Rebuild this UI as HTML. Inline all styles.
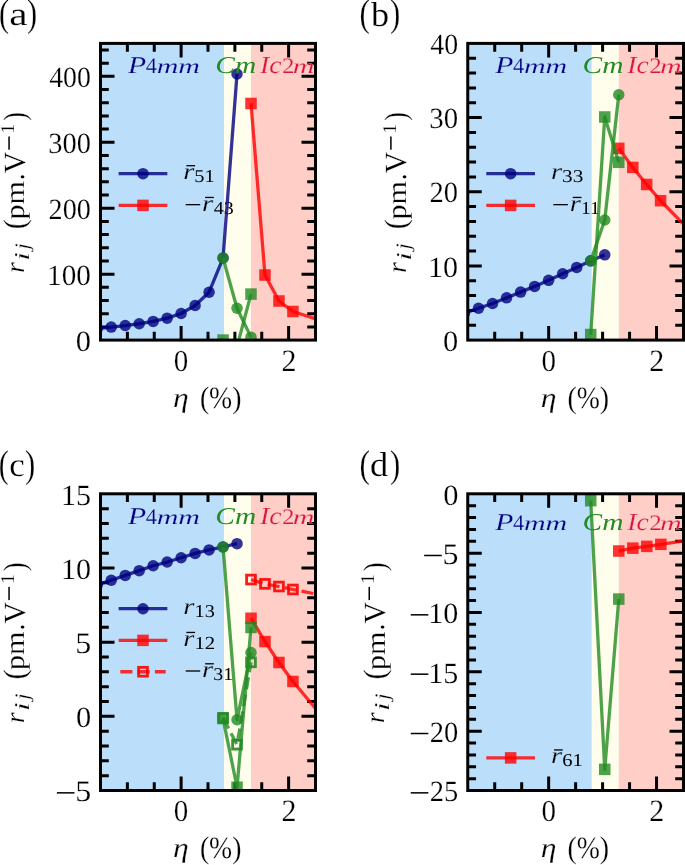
<!DOCTYPE html><html><head><meta charset="utf-8"><style>html,body{margin:0;padding:0;background:#fff;overflow:hidden}svg{display:block;will-change:transform;text-rendering:geometricPrecision;font-family:"Liberation Serif",serif}</style></head><body><svg width="685" height="865" viewBox="0 0 685 865" font-family="Liberation Serif, serif" font-size="100"><rect width="685" height="865" fill="#fff"/><defs><clipPath id="clipa"><rect x="100.5" y="43.4" width="215.0" height="296.70000000000005"/></clipPath><clipPath id="clipb"><rect x="467.75" y="43.4" width="215.75" height="296.70000000000005"/></clipPath><clipPath id="clipc"><rect x="100.5" y="493.8" width="215.0" height="296.7"/></clipPath><clipPath id="clipd"><rect x="467.75" y="493.8" width="215.75" height="296.7"/></clipPath></defs><g clip-path="url(#clipa)"><rect x="100.5" y="43.4" width="123.62" height="296.70" fill="#bbdefb"/><rect x="224.12" y="43.4" width="26.88" height="296.70" fill="#fffdec"/><rect x="251.00" y="43.4" width="64.50" height="296.70" fill="#ffcec7"/><path d="M120.30,173.65 L165.70,173.65" fill="none" stroke="#000080" stroke-opacity="0.8" stroke-width="3.3" stroke-linejoin="round" stroke-linecap="square"/><circle cx="143.00" cy="173.65" r="5.75" fill="#000080" fill-opacity="0.8"/><path d="M120.30,205.40 L165.70,205.40" fill="none" stroke="#ff0000" stroke-opacity="0.8" stroke-width="3.3" stroke-linejoin="round" stroke-linecap="square"/><rect x="137.25" y="199.65" width="11.50" height="11.50" fill="#ff0000" fill-opacity="0.8"/></g><g clip-path="url(#clipb)"><rect x="467.75" y="43.4" width="124.06" height="296.70" fill="#bbdefb"/><rect x="591.81" y="43.4" width="26.97" height="296.70" fill="#fffdec"/><rect x="618.77" y="43.4" width="64.73" height="296.70" fill="#ffcec7"/><path d="M487.95,173.65 L533.35,173.65" fill="none" stroke="#000080" stroke-opacity="0.8" stroke-width="3.3" stroke-linejoin="round" stroke-linecap="square"/><circle cx="510.65" cy="173.65" r="5.75" fill="#000080" fill-opacity="0.8"/><path d="M487.95,205.40 L533.35,205.40" fill="none" stroke="#ff0000" stroke-opacity="0.8" stroke-width="3.3" stroke-linejoin="round" stroke-linecap="square"/><rect x="504.90" y="199.65" width="11.50" height="11.50" fill="#ff0000" fill-opacity="0.8"/></g><g clip-path="url(#clipc)"><rect x="100.5" y="493.8" width="123.62" height="296.70" fill="#bbdefb"/><rect x="224.12" y="493.8" width="26.88" height="296.70" fill="#fffdec"/><rect x="251.00" y="493.8" width="64.50" height="296.70" fill="#ffcec7"/><path d="M120.30,608.70 L165.70,608.70" fill="none" stroke="#000080" stroke-opacity="0.8" stroke-width="3.3" stroke-linejoin="round" stroke-linecap="square"/><circle cx="143.00" cy="608.70" r="5.75" fill="#000080" fill-opacity="0.8"/><path d="M120.30,640.40 L165.70,640.40" fill="none" stroke="#ff0000" stroke-opacity="0.8" stroke-width="3.3" stroke-linejoin="round" stroke-linecap="square"/><rect x="137.25" y="634.65" width="11.50" height="11.50" fill="#ff0000" fill-opacity="0.8"/><path d="M120.30,671.75 L165.70,671.75" fill="none" stroke="#ff0000" stroke-opacity="0.8" stroke-width="3.3" stroke-linejoin="round" stroke-linecap="butt" stroke-dasharray="12.1,5.2"/><rect x="138.60" y="667.35" width="8.80" height="8.80" fill="none" stroke="#ff0000" stroke-opacity="0.9" stroke-width="2.8"/></g><g clip-path="url(#clipd)"><rect x="467.75" y="493.8" width="124.06" height="296.70" fill="#bbdefb"/><rect x="591.81" y="493.8" width="26.97" height="296.70" fill="#fffdec"/><rect x="618.77" y="493.8" width="64.73" height="296.70" fill="#ffcec7"/><path d="M487.95,757.90 L533.35,757.90" fill="none" stroke="#ff0000" stroke-opacity="0.8" stroke-width="3.3" stroke-linejoin="round" stroke-linecap="square"/><rect x="504.90" y="752.15" width="11.50" height="11.50" fill="#ff0000" fill-opacity="0.8"/></g><rect x="186.40" y="165.05" width="8.7" height="1.3" fill="#000"/><rect x="185.70" y="204.00" width="14.5" height="1.3" fill="#000"/><rect x="205.15" y="196.80" width="8.7" height="1.3" fill="#000"/><rect x="553.35" y="204.00" width="14.5" height="1.3" fill="#000"/><rect x="572.80" y="196.80" width="8.7" height="1.3" fill="#000"/><rect x="186.40" y="631.80" width="8.7" height="1.3" fill="#000"/><rect x="185.70" y="670.35" width="14.5" height="1.3" fill="#000"/><rect x="205.15" y="663.15" width="8.7" height="1.3" fill="#000"/><rect x="554.05" y="749.30" width="8.7" height="1.3" fill="#000"/><text transform="translate(183.36,179.05) scale(0.2857,0.2277)" font-style="italic" fill="#000" stroke="#bbdefb" stroke-width="0.78">r</text><text transform="translate(194.27,182.07) scale(0.2045,0.1806)" font-style="normal" fill="#000">51</text><text transform="translate(202.11,210.80) scale(0.2857,0.2277)" font-style="italic" fill="#000" stroke="#bbdefb" stroke-width="0.78">r</text><text transform="translate(213.85,213.82) scale(0.2000,0.1806)" font-style="normal" fill="#000">43</text><text transform="translate(551.01,179.05) scale(0.2857,0.2277)" font-style="italic" fill="#000" stroke="#bbdefb" stroke-width="0.78">r</text><text transform="translate(562.08,182.07) scale(0.2132,0.1806)" font-style="normal" fill="#000">33</text><text transform="translate(569.76,210.80) scale(0.2857,0.2277)" font-style="italic" fill="#000" stroke="#bbdefb" stroke-width="0.78">r</text><text transform="translate(580.94,214.00) scale(0.1951,0.1833)" font-style="normal" fill="#000">11</text><text transform="translate(183.36,614.10) scale(0.2857,0.2277)" font-style="italic" fill="#000" stroke="#bbdefb" stroke-width="0.78">r</text><text transform="translate(194.47,617.12) scale(0.2034,0.1806)" font-style="normal" fill="#000">13</text><text transform="translate(183.36,645.80) scale(0.2857,0.2277)" font-style="italic" fill="#000" stroke="#bbdefb" stroke-width="0.78">r</text><text transform="translate(194.43,649.00) scale(0.2082,0.1833)" font-style="normal" fill="#000">12</text><text transform="translate(202.11,677.15) scale(0.2857,0.2277)" font-style="italic" fill="#000" stroke="#bbdefb" stroke-width="0.78">r</text><text transform="translate(213.26,680.17) scale(0.1989,0.1806)" font-style="normal" fill="#000">31</text><text transform="translate(551.01,763.30) scale(0.2857,0.2277)" font-style="italic" fill="#000" stroke="#bbdefb" stroke-width="0.78">r</text><text transform="translate(562.33,766.32) scale(0.2056,0.1806)" font-style="normal" fill="#000">61</text><path d="M127.38,340.10V331.80M127.38,43.40V51.70M154.25,340.10V331.80M154.25,43.40V51.70M181.12,340.10V326.10M181.12,43.40V57.40M208.00,340.10V331.80M208.00,43.40V51.70M234.88,340.10V331.80M234.88,43.40V51.70M261.75,340.10V331.80M261.75,43.40V51.70M288.62,340.10V326.10M288.62,43.40V57.40M100.50,326.91H108.80M315.50,326.91H307.20M100.50,313.73H108.80M315.50,313.73H307.20M100.50,300.54H108.80M315.50,300.54H307.20M100.50,287.35H108.80M315.50,287.35H307.20M100.50,274.17H114.50M315.50,274.17H301.50M100.50,260.98H108.80M315.50,260.98H307.20M100.50,247.79H108.80M315.50,247.79H307.20M100.50,234.61H108.80M315.50,234.61H307.20M100.50,221.42H108.80M315.50,221.42H307.20M100.50,208.23H114.50M315.50,208.23H301.50M100.50,195.05H108.80M315.50,195.05H307.20M100.50,181.86H108.80M315.50,181.86H307.20M100.50,168.67H108.80M315.50,168.67H307.20M100.50,155.49H108.80M315.50,155.49H307.20M100.50,142.30H114.50M315.50,142.30H301.50M100.50,129.11H108.80M315.50,129.11H307.20M100.50,115.93H108.80M315.50,115.93H307.20M100.50,102.74H108.80M315.50,102.74H307.20M100.50,89.55H108.80M315.50,89.55H307.20M100.50,76.37H114.50M315.50,76.37H301.50M100.50,63.18H108.80M315.50,63.18H307.20M100.50,49.99H108.80M315.50,49.99H307.20" stroke="#000" stroke-width="3.0" fill="none"/><path d="M494.72,340.10V331.80M494.72,43.40V51.70M521.69,340.10V331.80M521.69,43.40V51.70M548.66,340.10V326.10M548.66,43.40V57.40M575.62,340.10V331.80M575.62,43.40V51.70M602.59,340.10V331.80M602.59,43.40V51.70M629.56,340.10V331.80M629.56,43.40V51.70M656.53,340.10V326.10M656.53,43.40V57.40M467.75,325.27H476.05M683.50,325.27H675.20M467.75,310.43H476.05M683.50,310.43H675.20M467.75,295.60H476.05M683.50,295.60H675.20M467.75,280.76H476.05M683.50,280.76H675.20M467.75,265.93H481.75M683.50,265.93H669.50M467.75,251.09H476.05M683.50,251.09H675.20M467.75,236.25H476.05M683.50,236.25H675.20M467.75,221.42H476.05M683.50,221.42H675.20M467.75,206.59H476.05M683.50,206.59H675.20M467.75,191.75H481.75M683.50,191.75H669.50M467.75,176.91H476.05M683.50,176.91H675.20M467.75,162.08H476.05M683.50,162.08H675.20M467.75,147.24H476.05M683.50,147.24H675.20M467.75,132.41H476.05M683.50,132.41H675.20M467.75,117.57H481.75M683.50,117.57H669.50M467.75,102.74H476.05M683.50,102.74H675.20M467.75,87.91H476.05M683.50,87.91H675.20M467.75,73.07H476.05M683.50,73.07H675.20M467.75,58.24H476.05M683.50,58.24H675.20" stroke="#000" stroke-width="3.0" fill="none"/><path d="M127.38,790.50V782.20M127.38,493.80V502.10M154.25,790.50V782.20M154.25,493.80V502.10M181.12,790.50V776.50M181.12,493.80V507.80M208.00,790.50V782.20M208.00,493.80V502.10M234.88,790.50V782.20M234.88,493.80V502.10M261.75,790.50V782.20M261.75,493.80V502.10M288.62,790.50V776.50M288.62,493.80V507.80M100.50,775.66H108.80M315.50,775.66H307.20M100.50,760.83H108.80M315.50,760.83H307.20M100.50,746.00H108.80M315.50,746.00H307.20M100.50,731.16H108.80M315.50,731.16H307.20M100.50,716.33H114.50M315.50,716.33H301.50M100.50,701.49H108.80M315.50,701.49H307.20M100.50,686.65H108.80M315.50,686.65H307.20M100.50,671.82H108.80M315.50,671.82H307.20M100.50,656.99H108.80M315.50,656.99H307.20M100.50,642.15H114.50M315.50,642.15H301.50M100.50,627.32H108.80M315.50,627.32H307.20M100.50,612.48H108.80M315.50,612.48H307.20M100.50,597.64H108.80M315.50,597.64H307.20M100.50,582.81H108.80M315.50,582.81H307.20M100.50,567.98H114.50M315.50,567.98H301.50M100.50,553.14H108.80M315.50,553.14H307.20M100.50,538.31H108.80M315.50,538.31H307.20M100.50,523.47H108.80M315.50,523.47H307.20M100.50,508.64H108.80M315.50,508.64H307.20" stroke="#000" stroke-width="3.0" fill="none"/><path d="M494.72,790.50V782.20M494.72,493.80V502.10M521.69,790.50V782.20M521.69,493.80V502.10M548.66,790.50V776.50M548.66,493.80V507.80M575.62,790.50V782.20M575.62,493.80V502.10M602.59,790.50V782.20M602.59,493.80V502.10M629.56,790.50V782.20M629.56,493.80V502.10M656.53,790.50V776.50M656.53,493.80V507.80M467.75,778.63H476.05M683.50,778.63H675.20M467.75,766.76H476.05M683.50,766.76H675.20M467.75,754.90H476.05M683.50,754.90H675.20M467.75,743.03H476.05M683.50,743.03H675.20M467.75,731.16H481.75M683.50,731.16H669.50M467.75,719.29H476.05M683.50,719.29H675.20M467.75,707.42H476.05M683.50,707.42H675.20M467.75,695.56H476.05M683.50,695.56H675.20M467.75,683.69H476.05M683.50,683.69H675.20M467.75,671.82H481.75M683.50,671.82H669.50M467.75,659.95H476.05M683.50,659.95H675.20M467.75,648.08H476.05M683.50,648.08H675.20M467.75,636.22H476.05M683.50,636.22H675.20M467.75,624.35H476.05M683.50,624.35H675.20M467.75,612.48H481.75M683.50,612.48H669.50M467.75,600.61H476.05M683.50,600.61H675.20M467.75,588.74H476.05M683.50,588.74H675.20M467.75,576.88H476.05M683.50,576.88H675.20M467.75,565.01H476.05M683.50,565.01H675.20M467.75,553.14H481.75M683.50,553.14H669.50M467.75,541.27H476.05M683.50,541.27H675.20M467.75,529.40H476.05M683.50,529.40H675.20M467.75,517.54H476.05M683.50,517.54H675.20M467.75,505.67H476.05M683.50,505.67H675.20" stroke="#000" stroke-width="3.0" fill="none"/><g clip-path="url(#clipa)"><path d="M97.27,328.50 L111.25,327.11 L125.22,325.53 L139.20,323.75 L153.18,321.44 L167.15,318.14 L181.12,313.46 L195.10,305.49 L209.07,292.23 L223.05,258.01 L237.03,73.99" fill="none" stroke="#000080" stroke-opacity="0.8" stroke-width="3.3" stroke-linejoin="round" stroke-linecap="butt"/><circle cx="97.27" cy="328.50" r="5.75" fill="#000080" fill-opacity="0.8"/><circle cx="111.25" cy="327.11" r="5.75" fill="#000080" fill-opacity="0.8"/><circle cx="125.22" cy="325.53" r="5.75" fill="#000080" fill-opacity="0.8"/><circle cx="139.20" cy="323.75" r="5.75" fill="#000080" fill-opacity="0.8"/><circle cx="153.18" cy="321.44" r="5.75" fill="#000080" fill-opacity="0.8"/><circle cx="167.15" cy="318.14" r="5.75" fill="#000080" fill-opacity="0.8"/><circle cx="181.12" cy="313.46" r="5.75" fill="#000080" fill-opacity="0.8"/><circle cx="195.10" cy="305.49" r="5.75" fill="#000080" fill-opacity="0.8"/><circle cx="209.07" cy="292.23" r="5.75" fill="#000080" fill-opacity="0.8"/><circle cx="223.05" cy="258.01" r="5.75" fill="#000080" fill-opacity="0.8"/><circle cx="237.03" cy="73.99" r="5.75" fill="#000080" fill-opacity="0.8"/><path d="M251.00,103.47 L264.98,275.02 L278.95,301.00 L292.93,311.48 L320.88,320.72" fill="none" stroke="#ff0000" stroke-opacity="0.8" stroke-width="3.3" stroke-linejoin="round" stroke-linecap="butt"/><rect x="245.25" y="97.72" width="11.50" height="11.50" fill="#ff0000" fill-opacity="0.8"/><rect x="259.23" y="269.27" width="11.50" height="11.50" fill="#ff0000" fill-opacity="0.8"/><rect x="273.20" y="295.25" width="11.50" height="11.50" fill="#ff0000" fill-opacity="0.8"/><rect x="287.18" y="305.73" width="11.50" height="11.50" fill="#ff0000" fill-opacity="0.8"/><rect x="315.12" y="314.97" width="11.50" height="11.50" fill="#ff0000" fill-opacity="0.8"/><path d="M223.05,258.01 L237.03,308.25 L251.00,337.13" fill="none" stroke="#228b22" stroke-opacity="0.8" stroke-width="3.3" stroke-linejoin="round" stroke-linecap="butt"/><circle cx="223.05" cy="258.01" r="5.75" fill="#228b22" fill-opacity="0.8"/><circle cx="237.03" cy="308.25" r="5.75" fill="#228b22" fill-opacity="0.8"/><circle cx="251.00" cy="337.13" r="5.75" fill="#228b22" fill-opacity="0.8"/><path d="M223.05,340.10 L237.03,346.69 L251.00,294.08" fill="none" stroke="#228b22" stroke-opacity="0.8" stroke-width="3.3" stroke-linejoin="round" stroke-linecap="butt"/><rect x="217.30" y="334.35" width="11.50" height="11.50" fill="#228b22" fill-opacity="0.8"/><rect x="231.28" y="340.94" width="11.50" height="11.50" fill="#228b22" fill-opacity="0.8"/><rect x="245.25" y="288.33" width="11.50" height="11.50" fill="#228b22" fill-opacity="0.8"/></g><g clip-path="url(#clipb)"><path d="M464.51,313.03 L478.54,308.28 L492.56,303.53 L506.58,297.82 L520.61,292.11 L534.63,286.40 L548.66,280.31 L562.68,273.71 L576.70,267.41 L590.73,260.81 L604.75,254.87" fill="none" stroke="#000080" stroke-opacity="0.8" stroke-width="3.3" stroke-linejoin="round" stroke-linecap="butt"/><circle cx="464.51" cy="313.03" r="5.75" fill="#000080" fill-opacity="0.8"/><circle cx="478.54" cy="308.28" r="5.75" fill="#000080" fill-opacity="0.8"/><circle cx="492.56" cy="303.53" r="5.75" fill="#000080" fill-opacity="0.8"/><circle cx="506.58" cy="297.82" r="5.75" fill="#000080" fill-opacity="0.8"/><circle cx="520.61" cy="292.11" r="5.75" fill="#000080" fill-opacity="0.8"/><circle cx="534.63" cy="286.40" r="5.75" fill="#000080" fill-opacity="0.8"/><circle cx="548.66" cy="280.31" r="5.75" fill="#000080" fill-opacity="0.8"/><circle cx="562.68" cy="273.71" r="5.75" fill="#000080" fill-opacity="0.8"/><circle cx="576.70" cy="267.41" r="5.75" fill="#000080" fill-opacity="0.8"/><circle cx="590.73" cy="260.81" r="5.75" fill="#000080" fill-opacity="0.8"/><circle cx="604.75" cy="254.87" r="5.75" fill="#000080" fill-opacity="0.8"/><path d="M618.77,148.36 L632.80,167.42 L646.66,184.48 L660.58,200.73 L688.89,229.58" fill="none" stroke="#ff0000" stroke-opacity="0.8" stroke-width="3.3" stroke-linejoin="round" stroke-linecap="butt"/><rect x="613.02" y="142.61" width="11.50" height="11.50" fill="#ff0000" fill-opacity="0.8"/><rect x="627.05" y="161.67" width="11.50" height="11.50" fill="#ff0000" fill-opacity="0.8"/><rect x="640.91" y="178.73" width="11.50" height="11.50" fill="#ff0000" fill-opacity="0.8"/><rect x="654.83" y="194.98" width="11.50" height="11.50" fill="#ff0000" fill-opacity="0.8"/><rect x="683.14" y="223.83" width="11.50" height="11.50" fill="#ff0000" fill-opacity="0.8"/><path d="M590.73,260.81 L604.75,220.01 L618.77,94.80" fill="none" stroke="#228b22" stroke-opacity="0.8" stroke-width="3.3" stroke-linejoin="round" stroke-linecap="butt"/><circle cx="590.73" cy="260.81" r="5.75" fill="#228b22" fill-opacity="0.8"/><circle cx="604.75" cy="220.01" r="5.75" fill="#228b22" fill-opacity="0.8"/><circle cx="618.77" cy="94.80" r="5.75" fill="#228b22" fill-opacity="0.8"/><path d="M590.73,334.54 L604.75,116.98 L618.77,162.30" fill="none" stroke="#228b22" stroke-opacity="0.8" stroke-width="3.3" stroke-linejoin="round" stroke-linecap="butt"/><rect x="584.98" y="328.79" width="11.50" height="11.50" fill="#228b22" fill-opacity="0.8"/><rect x="599.00" y="111.23" width="11.50" height="11.50" fill="#228b22" fill-opacity="0.8"/><rect x="613.02" y="156.55" width="11.50" height="11.50" fill="#228b22" fill-opacity="0.8"/></g><g clip-path="url(#clipc)"><path d="M97.27,585.04 L111.25,580.29 L125.22,575.39 L139.20,570.65 L153.18,565.75 L167.15,562.04 L181.12,557.74 L195.10,553.44 L209.07,549.88 L223.05,546.91 L237.03,543.65" fill="none" stroke="#000080" stroke-opacity="0.8" stroke-width="3.3" stroke-linejoin="round" stroke-linecap="butt"/><circle cx="97.27" cy="585.04" r="5.75" fill="#000080" fill-opacity="0.8"/><circle cx="111.25" cy="580.29" r="5.75" fill="#000080" fill-opacity="0.8"/><circle cx="125.22" cy="575.39" r="5.75" fill="#000080" fill-opacity="0.8"/><circle cx="139.20" cy="570.65" r="5.75" fill="#000080" fill-opacity="0.8"/><circle cx="153.18" cy="565.75" r="5.75" fill="#000080" fill-opacity="0.8"/><circle cx="167.15" cy="562.04" r="5.75" fill="#000080" fill-opacity="0.8"/><circle cx="181.12" cy="557.74" r="5.75" fill="#000080" fill-opacity="0.8"/><circle cx="195.10" cy="553.44" r="5.75" fill="#000080" fill-opacity="0.8"/><circle cx="209.07" cy="549.88" r="5.75" fill="#000080" fill-opacity="0.8"/><circle cx="223.05" cy="546.91" r="5.75" fill="#000080" fill-opacity="0.8"/><circle cx="237.03" cy="543.65" r="5.75" fill="#000080" fill-opacity="0.8"/><path d="M251.00,618.27 L264.98,641.56 L278.95,662.47 L292.93,681.46 L320.88,714.84" fill="none" stroke="#ff0000" stroke-opacity="0.8" stroke-width="3.3" stroke-linejoin="round" stroke-linecap="butt"/><rect x="245.25" y="612.52" width="11.50" height="11.50" fill="#ff0000" fill-opacity="0.8"/><rect x="259.23" y="635.81" width="11.50" height="11.50" fill="#ff0000" fill-opacity="0.8"/><rect x="273.20" y="656.72" width="11.50" height="11.50" fill="#ff0000" fill-opacity="0.8"/><rect x="287.18" y="675.71" width="11.50" height="11.50" fill="#ff0000" fill-opacity="0.8"/><rect x="315.12" y="709.09" width="11.50" height="11.50" fill="#ff0000" fill-opacity="0.8"/><path d="M251.00,579.55 L264.98,583.85 L278.95,586.52 L292.93,589.49 L320.88,594.97" fill="none" stroke="#ff0000" stroke-opacity="0.8" stroke-width="3.3" stroke-linejoin="round" stroke-linecap="butt" stroke-dasharray="12.1,5.2"/><rect x="246.60" y="575.15" width="8.80" height="8.80" fill="none" stroke="#ff0000" stroke-opacity="0.9" stroke-width="2.8"/><rect x="260.58" y="579.45" width="8.80" height="8.80" fill="none" stroke="#ff0000" stroke-opacity="0.9" stroke-width="2.8"/><rect x="274.55" y="582.12" width="8.80" height="8.80" fill="none" stroke="#ff0000" stroke-opacity="0.9" stroke-width="2.8"/><rect x="288.53" y="585.09" width="8.80" height="8.80" fill="none" stroke="#ff0000" stroke-opacity="0.9" stroke-width="2.8"/><rect x="316.48" y="590.57" width="8.80" height="8.80" fill="none" stroke="#ff0000" stroke-opacity="0.9" stroke-width="2.8"/><path d="M223.05,546.91 L237.03,719.74 L251.00,652.53" fill="none" stroke="#228b22" stroke-opacity="0.8" stroke-width="3.3" stroke-linejoin="round" stroke-linecap="butt"/><circle cx="223.05" cy="546.91" r="5.75" fill="#228b22" fill-opacity="0.8"/><circle cx="237.03" cy="719.74" r="5.75" fill="#228b22" fill-opacity="0.8"/><circle cx="251.00" cy="652.53" r="5.75" fill="#228b22" fill-opacity="0.8"/><path d="M223.05,718.55 L237.03,787.24 L251.00,627.46" fill="none" stroke="#228b22" stroke-opacity="0.8" stroke-width="3.3" stroke-linejoin="round" stroke-linecap="butt"/><rect x="217.30" y="712.80" width="11.50" height="11.50" fill="#228b22" fill-opacity="0.8"/><rect x="231.28" y="781.49" width="11.50" height="11.50" fill="#228b22" fill-opacity="0.8"/><rect x="245.25" y="621.71" width="11.50" height="11.50" fill="#228b22" fill-opacity="0.8"/><path d="M223.05,717.81 L237.03,744.66 L251.00,662.33" fill="none" stroke="#228b22" stroke-opacity="0.8" stroke-width="3.3" stroke-linejoin="round" stroke-linecap="butt" stroke-dasharray="12.1,5.2"/><rect x="218.65" y="713.41" width="8.80" height="8.80" fill="none" stroke="#228b22" stroke-opacity="0.9" stroke-width="2.8"/><rect x="232.62" y="740.26" width="8.80" height="8.80" fill="none" stroke="#228b22" stroke-opacity="0.9" stroke-width="2.8"/><rect x="246.60" y="657.93" width="8.80" height="8.80" fill="none" stroke="#228b22" stroke-opacity="0.9" stroke-width="2.8"/></g><g clip-path="url(#clipd)"><path d="M618.77,551.00 L632.80,548.16 L646.82,546.38 L660.85,544.36 L688.89,540.09" fill="none" stroke="#ff0000" stroke-opacity="0.8" stroke-width="3.3" stroke-linejoin="round" stroke-linecap="butt"/><rect x="613.02" y="545.25" width="11.50" height="11.50" fill="#ff0000" fill-opacity="0.8"/><rect x="627.05" y="542.41" width="11.50" height="11.50" fill="#ff0000" fill-opacity="0.8"/><rect x="641.07" y="540.63" width="11.50" height="11.50" fill="#ff0000" fill-opacity="0.8"/><rect x="655.10" y="538.61" width="11.50" height="11.50" fill="#ff0000" fill-opacity="0.8"/><rect x="683.14" y="534.34" width="11.50" height="11.50" fill="#ff0000" fill-opacity="0.8"/><path d="M590.73,500.68 L604.75,769.37 L618.77,599.07" fill="none" stroke="#228b22" stroke-opacity="0.8" stroke-width="3.3" stroke-linejoin="round" stroke-linecap="butt"/><rect x="584.98" y="494.93" width="11.50" height="11.50" fill="#228b22" fill-opacity="0.8"/><rect x="599.00" y="763.62" width="11.50" height="11.50" fill="#228b22" fill-opacity="0.8"/><rect x="613.02" y="593.32" width="11.50" height="11.50" fill="#228b22" fill-opacity="0.8"/></g><text transform="translate(128.10,73.20) scale(0.2966,0.2415)" font-style="italic" fill="#000080" stroke="#bbdefb" stroke-width="0.74">P</text><text transform="translate(145.85,73.10) scale(0.2239,0.2242)" font-style="normal" fill="#000080" stroke="#bbdefb" stroke-width="0.89">4</text><text transform="translate(156.70,73.30) scale(0.3000,0.2064)" font-style="italic" fill="#000080" stroke="#bbdefb" stroke-width="0.79">mm</text><text transform="translate(215.34,73.26) scale(0.2938,0.2403)" font-style="italic" fill="#228b22">Cm</text><text transform="translate(260.10,73.26) scale(0.2763,0.2439)" font-style="italic" fill="#dc143c" stroke="#ffcec7" stroke-width="0.77">Ic</text><text transform="translate(281.90,73.10) scale(0.2500,0.2212)" font-style="normal" fill="#dc143c" stroke="#ffcec7" stroke-width="0.85">2</text><text transform="translate(292.80,73.30) scale(0.3000,0.2064)" font-style="italic" fill="#dc143c" stroke="#ffcec7" stroke-width="0.79">m</text><text transform="translate(495.35,73.20) scale(0.2966,0.2415)" font-style="italic" fill="#000080" stroke="#bbdefb" stroke-width="0.74">P</text><text transform="translate(513.10,73.10) scale(0.2239,0.2242)" font-style="normal" fill="#000080" stroke="#bbdefb" stroke-width="0.89">4</text><text transform="translate(523.95,73.30) scale(0.3000,0.2064)" font-style="italic" fill="#000080" stroke="#bbdefb" stroke-width="0.79">mm</text><text transform="translate(582.59,73.26) scale(0.2938,0.2403)" font-style="italic" fill="#228b22">Cm</text><text transform="translate(627.35,73.26) scale(0.2763,0.2439)" font-style="italic" fill="#dc143c" stroke="#ffcec7" stroke-width="0.77">Ic</text><text transform="translate(649.15,73.10) scale(0.2500,0.2212)" font-style="normal" fill="#dc143c" stroke="#ffcec7" stroke-width="0.85">2</text><text transform="translate(660.05,73.30) scale(0.3000,0.2064)" font-style="italic" fill="#dc143c" stroke="#ffcec7" stroke-width="0.79">m</text><text transform="translate(128.10,523.60) scale(0.2966,0.2415)" font-style="italic" fill="#000080" stroke="#bbdefb" stroke-width="0.74">P</text><text transform="translate(145.85,523.50) scale(0.2239,0.2242)" font-style="normal" fill="#000080" stroke="#bbdefb" stroke-width="0.89">4</text><text transform="translate(156.70,523.70) scale(0.3000,0.2064)" font-style="italic" fill="#000080" stroke="#bbdefb" stroke-width="0.79">mm</text><text transform="translate(215.34,523.66) scale(0.2938,0.2403)" font-style="italic" fill="#228b22">Cm</text><text transform="translate(260.10,523.66) scale(0.2763,0.2439)" font-style="italic" fill="#dc143c" stroke="#ffcec7" stroke-width="0.77">Ic</text><text transform="translate(281.90,523.50) scale(0.2500,0.2212)" font-style="normal" fill="#dc143c" stroke="#ffcec7" stroke-width="0.85">2</text><text transform="translate(292.80,523.70) scale(0.3000,0.2064)" font-style="italic" fill="#dc143c" stroke="#ffcec7" stroke-width="0.79">m</text><text transform="translate(495.35,529.70) scale(0.2966,0.2415)" font-style="italic" fill="#000080" stroke="#bbdefb" stroke-width="0.74">P</text><text transform="translate(513.10,529.60) scale(0.2239,0.2242)" font-style="normal" fill="#000080" stroke="#bbdefb" stroke-width="0.89">4</text><text transform="translate(523.95,529.80) scale(0.3000,0.2064)" font-style="italic" fill="#000080" stroke="#bbdefb" stroke-width="0.79">mm</text><text transform="translate(582.59,529.76) scale(0.2938,0.2403)" font-style="italic" fill="#228b22">Cm</text><text transform="translate(627.35,529.76) scale(0.2763,0.2439)" font-style="italic" fill="#dc143c" stroke="#ffcec7" stroke-width="0.77">Ic</text><text transform="translate(649.15,529.60) scale(0.2500,0.2212)" font-style="normal" fill="#dc143c" stroke="#ffcec7" stroke-width="0.85">2</text><text transform="translate(660.05,529.80) scale(0.3000,0.2064)" font-style="italic" fill="#dc143c" stroke="#ffcec7" stroke-width="0.79">m</text><rect x="100.5" y="43.4" width="215.0" height="296.70000000000005" fill="none" stroke="#000" stroke-width="3.0" stroke-linejoin="miter"/><rect x="467.75" y="43.4" width="215.75" height="296.70000000000005" fill="none" stroke="#000" stroke-width="3.0" stroke-linejoin="miter"/><rect x="100.5" y="493.8" width="215.0" height="296.7" fill="none" stroke="#000" stroke-width="3.0" stroke-linejoin="miter"/><rect x="467.75" y="493.8" width="215.75" height="296.7" fill="none" stroke="#000" stroke-width="3.0" stroke-linejoin="miter"/><text transform="translate(-1.02,26.30) scale(0.3038,0.3856)" font-style="normal" fill="#000" stroke="#fff" stroke-width="0.58">(</text><text transform="translate(9.15,25.37) scale(0.4128,0.3292)" font-style="normal" fill="#000" stroke="#fff" stroke-width="0.54">a</text><text transform="translate(27.09,26.30) scale(0.3038,0.3856)" font-style="normal" fill="#000" stroke="#fff" stroke-width="0.58">)</text><text transform="translate(359.44,26.30) scale(0.3154,0.3856)" font-style="normal" fill="#000" stroke="#fff" stroke-width="0.57">(</text><text transform="translate(371.10,25.55) scale(0.3630,0.3471)" font-style="normal" fill="#000" stroke="#fff" stroke-width="0.56">b</text><text transform="translate(389.88,26.30) scale(0.3077,0.3856)" font-style="normal" fill="#000" stroke="#fff" stroke-width="0.58">)</text><text transform="translate(-1.20,476.70) scale(0.3000,0.3856)" font-style="normal" fill="#000" stroke="#fff" stroke-width="0.58">(</text><text transform="translate(9.21,476.06) scale(0.3486,0.3354)" font-style="normal" fill="#000" stroke="#fff" stroke-width="0.58">c</text><text transform="translate(24.98,476.70) scale(0.3077,0.3856)" font-style="normal" fill="#000" stroke="#fff" stroke-width="0.58">)</text><text transform="translate(359.44,476.70) scale(0.3154,0.3856)" font-style="normal" fill="#000" stroke="#fff" stroke-width="0.57">(</text><text transform="translate(369.94,475.65) scale(0.3644,0.3457)" font-style="normal" fill="#000" stroke="#fff" stroke-width="0.56">d</text><text transform="translate(389.88,476.70) scale(0.3077,0.3856)" font-style="normal" fill="#000" stroke="#fff" stroke-width="0.58">)</text><text transform="translate(75.68,350.81) scale(0.3048,0.2925)" font-style="normal" fill="#000" stroke="#fff" stroke-width="0.67">0</text><text transform="translate(47.07,284.87) scale(0.2920,0.2925)" font-style="normal" fill="#000" stroke="#fff" stroke-width="0.68">100</text><text transform="translate(48.57,218.94) scale(0.2817,0.2925)" font-style="normal" fill="#000" stroke="#fff" stroke-width="0.70">200</text><text transform="translate(48.28,153.01) scale(0.2837,0.2925)" font-style="normal" fill="#000" stroke="#fff" stroke-width="0.69">300</text><text transform="translate(49.14,87.07) scale(0.2778,0.2925)" font-style="normal" fill="#000" stroke="#fff" stroke-width="0.70">400</text><text transform="translate(442.93,350.81) scale(0.3048,0.2925)" font-style="normal" fill="#000" stroke="#fff" stroke-width="0.67">0</text><text transform="translate(428.04,276.63) scale(0.3011,0.2925)" font-style="normal" fill="#000" stroke="#fff" stroke-width="0.67">10</text><text transform="translate(429.61,202.46) scale(0.2848,0.2925)" font-style="normal" fill="#000" stroke="#fff" stroke-width="0.69">20</text><text transform="translate(429.31,128.28) scale(0.2879,0.2925)" font-style="normal" fill="#000" stroke="#fff" stroke-width="0.69">30</text><text transform="translate(430.19,54.11) scale(0.2787,0.2925)" font-style="normal" fill="#000" stroke="#fff" stroke-width="0.70">40</text><text transform="translate(75.18,801.20) scale(0.3200,0.2970)" font-style="normal" fill="#000" stroke="#fff" stroke-width="0.65">5</text><text transform="translate(75.88,727.03) scale(0.3048,0.2925)" font-style="normal" fill="#000" stroke="#fff" stroke-width="0.67">0</text><text transform="translate(75.18,652.85) scale(0.3200,0.2970)" font-style="normal" fill="#000" stroke="#fff" stroke-width="0.65">5</text><text transform="translate(60.99,578.68) scale(0.3011,0.2925)" font-style="normal" fill="#000" stroke="#fff" stroke-width="0.67">10</text><text transform="translate(60.99,504.51) scale(0.3011,0.2925)" font-style="normal" fill="#000" stroke="#fff" stroke-width="0.67">15</text><text transform="translate(429.81,801.21) scale(0.2848,0.2925)" font-style="normal" fill="#000" stroke="#fff" stroke-width="0.69">25</text><text transform="translate(429.81,741.87) scale(0.2848,0.2925)" font-style="normal" fill="#000" stroke="#fff" stroke-width="0.69">20</text><text transform="translate(428.24,682.53) scale(0.3011,0.2925)" font-style="normal" fill="#000" stroke="#fff" stroke-width="0.67">15</text><text transform="translate(428.24,623.19) scale(0.3011,0.2925)" font-style="normal" fill="#000" stroke="#fff" stroke-width="0.67">10</text><text transform="translate(442.43,563.84) scale(0.3200,0.2970)" font-style="normal" fill="#000" stroke="#fff" stroke-width="0.65">5</text><text transform="translate(443.13,504.51) scale(0.3048,0.2925)" font-style="normal" fill="#000" stroke="#fff" stroke-width="0.67">0</text><text transform="translate(173.86,370.69) scale(0.2905,0.3060)" font-style="normal" fill="#000" stroke="#fff" stroke-width="0.67">0</text><text transform="translate(281.43,371.00) scale(0.3000,0.3106)" font-style="normal" fill="#000" stroke="#fff" stroke-width="0.66">2</text><text transform="translate(173.03,407.03) scale(0.3171,0.2794)" font-style="italic" fill="#000" stroke="#fff" stroke-width="0.67">η</text><text transform="translate(199.89,407.59) scale(0.2773,0.3100)" font-style="normal" fill="#000" stroke="#fff" stroke-width="0.68">(%)</text><text transform="translate(24.70,280.00) rotate(-90) translate(7.08,-0.50) scale(0.2800,0.2702)" font-style="italic" fill="#000" stroke="#fff" stroke-width="0.73">r</text><text transform="translate(24.70,280.00) rotate(-90) translate(19.34,4.30) scale(0.3105,0.2121)" font-style="italic" fill="#000" stroke="#fff" stroke-width="0.77">i</text><text transform="translate(24.70,280.00) rotate(-90) translate(30.54,3.80) scale(0.2222,0.2046)" font-style="italic" fill="#000" stroke="#fff" stroke-width="0.94">j</text><text transform="translate(24.70,280.00) rotate(-90) translate(50.78,-0.13) scale(0.3038,0.3156)" font-style="normal" fill="#000" stroke="#fff" stroke-width="0.65">(</text><text transform="translate(24.70,280.00) rotate(-90) translate(60.40,-0.31) scale(0.3016,0.2765)" font-style="normal" fill="#000" stroke="#fff" stroke-width="0.69">pm</text><text transform="translate(24.70,280.00) rotate(-90) translate(99.79,-0.63) scale(0.2727,0.3273)" font-style="normal" fill="#000" stroke="#fff" stroke-width="0.67">.</text><text transform="translate(24.70,280.00) rotate(-90) translate(106.80,-0.11) scale(0.2971,0.3076)" font-style="normal" fill="#000" stroke="#fff" stroke-width="0.66">V</text><text transform="translate(24.70,280.00) rotate(-90) translate(146.30,-10.70) scale(0.2000,0.1939)" font-style="normal" fill="#000" stroke="#fff" stroke-width="1.02">1</text><text transform="translate(24.70,280.00) rotate(-90) translate(159.33,-0.10) scale(0.2577,0.3144)" font-style="normal" fill="#000" stroke="#fff" stroke-width="0.70">)</text><text transform="translate(541.39,370.69) scale(0.2905,0.3060)" font-style="normal" fill="#000" stroke="#fff" stroke-width="0.67">0</text><text transform="translate(649.33,371.00) scale(0.3000,0.3106)" font-style="normal" fill="#000" stroke="#fff" stroke-width="0.66">2</text><text transform="translate(540.66,407.03) scale(0.3171,0.2794)" font-style="italic" fill="#000" stroke="#fff" stroke-width="0.67">η</text><text transform="translate(567.52,407.59) scale(0.2773,0.3100)" font-style="normal" fill="#000" stroke="#fff" stroke-width="0.68">(%)</text><text transform="translate(406.55,280.00) rotate(-90) translate(7.08,-0.50) scale(0.2800,0.2702)" font-style="italic" fill="#000" stroke="#fff" stroke-width="0.73">r</text><text transform="translate(406.55,280.00) rotate(-90) translate(19.34,4.30) scale(0.3105,0.2121)" font-style="italic" fill="#000" stroke="#fff" stroke-width="0.77">i</text><text transform="translate(406.55,280.00) rotate(-90) translate(30.54,3.80) scale(0.2222,0.2046)" font-style="italic" fill="#000" stroke="#fff" stroke-width="0.94">j</text><text transform="translate(406.55,280.00) rotate(-90) translate(50.78,-0.13) scale(0.3038,0.3156)" font-style="normal" fill="#000" stroke="#fff" stroke-width="0.65">(</text><text transform="translate(406.55,280.00) rotate(-90) translate(60.40,-0.31) scale(0.3016,0.2765)" font-style="normal" fill="#000" stroke="#fff" stroke-width="0.69">pm</text><text transform="translate(406.55,280.00) rotate(-90) translate(99.79,-0.63) scale(0.2727,0.3273)" font-style="normal" fill="#000" stroke="#fff" stroke-width="0.67">.</text><text transform="translate(406.55,280.00) rotate(-90) translate(106.80,-0.11) scale(0.2971,0.3076)" font-style="normal" fill="#000" stroke="#fff" stroke-width="0.66">V</text><text transform="translate(406.55,280.00) rotate(-90) translate(146.30,-10.70) scale(0.2000,0.1939)" font-style="normal" fill="#000" stroke="#fff" stroke-width="1.02">1</text><text transform="translate(406.55,280.00) rotate(-90) translate(159.33,-0.10) scale(0.2577,0.3144)" font-style="normal" fill="#000" stroke="#fff" stroke-width="0.70">)</text><text transform="translate(173.86,821.09) scale(0.2905,0.3060)" font-style="normal" fill="#000" stroke="#fff" stroke-width="0.67">0</text><text transform="translate(281.43,821.40) scale(0.3000,0.3106)" font-style="normal" fill="#000" stroke="#fff" stroke-width="0.66">2</text><text transform="translate(173.03,857.43) scale(0.3171,0.2794)" font-style="italic" fill="#000" stroke="#fff" stroke-width="0.67">η</text><text transform="translate(199.89,857.99) scale(0.2773,0.3100)" font-style="normal" fill="#000" stroke="#fff" stroke-width="0.68">(%)</text><text transform="translate(24.70,730.40) rotate(-90) translate(7.08,-0.50) scale(0.2800,0.2702)" font-style="italic" fill="#000" stroke="#fff" stroke-width="0.73">r</text><text transform="translate(24.70,730.40) rotate(-90) translate(19.34,4.30) scale(0.3105,0.2121)" font-style="italic" fill="#000" stroke="#fff" stroke-width="0.77">i</text><text transform="translate(24.70,730.40) rotate(-90) translate(30.54,3.80) scale(0.2222,0.2046)" font-style="italic" fill="#000" stroke="#fff" stroke-width="0.94">j</text><text transform="translate(24.70,730.40) rotate(-90) translate(50.78,-0.13) scale(0.3038,0.3156)" font-style="normal" fill="#000" stroke="#fff" stroke-width="0.65">(</text><text transform="translate(24.70,730.40) rotate(-90) translate(60.40,-0.31) scale(0.3016,0.2765)" font-style="normal" fill="#000" stroke="#fff" stroke-width="0.69">pm</text><text transform="translate(24.70,730.40) rotate(-90) translate(99.79,-0.63) scale(0.2727,0.3273)" font-style="normal" fill="#000" stroke="#fff" stroke-width="0.67">.</text><text transform="translate(24.70,730.40) rotate(-90) translate(106.80,-0.11) scale(0.2971,0.3076)" font-style="normal" fill="#000" stroke="#fff" stroke-width="0.66">V</text><text transform="translate(24.70,730.40) rotate(-90) translate(146.30,-10.70) scale(0.2000,0.1939)" font-style="normal" fill="#000" stroke="#fff" stroke-width="1.02">1</text><text transform="translate(24.70,730.40) rotate(-90) translate(159.33,-0.10) scale(0.2577,0.3144)" font-style="normal" fill="#000" stroke="#fff" stroke-width="0.70">)</text><text transform="translate(541.39,821.09) scale(0.2905,0.3060)" font-style="normal" fill="#000" stroke="#fff" stroke-width="0.67">0</text><text transform="translate(649.33,821.40) scale(0.3000,0.3106)" font-style="normal" fill="#000" stroke="#fff" stroke-width="0.66">2</text><text transform="translate(540.66,857.43) scale(0.3171,0.2794)" font-style="italic" fill="#000" stroke="#fff" stroke-width="0.67">η</text><text transform="translate(567.52,857.99) scale(0.2773,0.3100)" font-style="normal" fill="#000" stroke="#fff" stroke-width="0.68">(%)</text><text transform="translate(384.90,730.40) rotate(-90) translate(7.08,-0.50) scale(0.2800,0.2702)" font-style="italic" fill="#000" stroke="#fff" stroke-width="0.73">r</text><text transform="translate(384.90,730.40) rotate(-90) translate(19.34,4.30) scale(0.3105,0.2121)" font-style="italic" fill="#000" stroke="#fff" stroke-width="0.77">i</text><text transform="translate(384.90,730.40) rotate(-90) translate(30.54,3.80) scale(0.2222,0.2046)" font-style="italic" fill="#000" stroke="#fff" stroke-width="0.94">j</text><text transform="translate(384.90,730.40) rotate(-90) translate(50.78,-0.13) scale(0.3038,0.3156)" font-style="normal" fill="#000" stroke="#fff" stroke-width="0.65">(</text><text transform="translate(384.90,730.40) rotate(-90) translate(60.40,-0.31) scale(0.3016,0.2765)" font-style="normal" fill="#000" stroke="#fff" stroke-width="0.69">pm</text><text transform="translate(384.90,730.40) rotate(-90) translate(99.79,-0.63) scale(0.2727,0.3273)" font-style="normal" fill="#000" stroke="#fff" stroke-width="0.67">.</text><text transform="translate(384.90,730.40) rotate(-90) translate(106.80,-0.11) scale(0.2971,0.3076)" font-style="normal" fill="#000" stroke="#fff" stroke-width="0.66">V</text><text transform="translate(384.90,730.40) rotate(-90) translate(146.30,-10.70) scale(0.2000,0.1939)" font-style="normal" fill="#000" stroke="#fff" stroke-width="1.02">1</text><text transform="translate(384.90,730.40) rotate(-90) translate(159.33,-0.10) scale(0.2577,0.3144)" font-style="normal" fill="#000" stroke="#fff" stroke-width="0.70">)</text><rect x="56.90" y="792.10" width="17.6" height="1.5" fill="#000"/><rect x="410.75" y="792.10" width="17.6" height="1.5" fill="#000"/><rect x="410.75" y="732.76" width="17.6" height="1.5" fill="#000"/><rect x="410.75" y="673.42" width="17.6" height="1.5" fill="#000"/><rect x="410.75" y="614.08" width="17.6" height="1.5" fill="#000"/><rect x="424.15" y="554.74" width="17.6" height="1.5" fill="#000"/><rect x="8.30" y="136.50" width="1.5" height="13.20" fill="#000"/><rect x="390.15" y="136.50" width="1.5" height="13.20" fill="#000"/><rect x="8.30" y="586.90" width="1.5" height="13.20" fill="#000"/><rect x="368.50" y="586.90" width="1.5" height="13.20" fill="#000"/></svg></body></html>
